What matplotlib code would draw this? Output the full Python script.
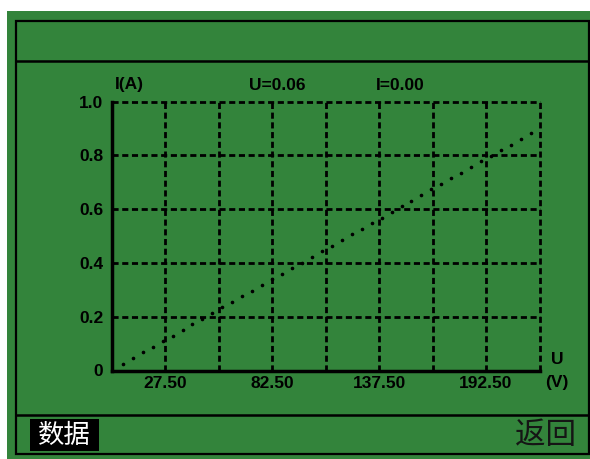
import matplotlib
matplotlib.use("Agg")
import matplotlib.pyplot as plt
from matplotlib.patches import Rectangle

u_volts = [5.8, 10.9, 16.0, 21.2, 26.3, 31.4, 36.5, 41.6, 46.7, 51.9, 57.0, 62.1, 67.2, 72.3,
           77.4, 82.6, 87.7, 92.8, 97.9, 103.0, 108.1, 113.3, 118.4, 123.5, 128.6, 133.7, 138.8,
           144.0, 149.1, 154.2, 159.3, 164.4, 169.5, 174.7, 179.8, 184.9, 190.0, 195.1, 200.2,
           205.4, 210.5, 215.6]
i_amps = [0.026, 0.047, 0.067, 0.088, 0.109, 0.130, 0.151, 0.172, 0.193, 0.214, 0.235, 0.255,
          0.276, 0.297, 0.318, 0.339, 0.360, 0.381, 0.401, 0.422, 0.443, 0.464, 0.485, 0.506,
          0.527, 0.547, 0.568, 0.590, 0.610, 0.631, 0.652, 0.673, 0.694, 0.715, 0.736, 0.756,
          0.777, 0.798, 0.819, 0.840, 0.861, 0.882]

grid_u = [27.5, 55.0, 82.5, 110.0, 137.5, 165.0, 192.5, 220.0]
grid_i = [0.2, 0.4, 0.6, 0.8, 1.0]
xtick_vals = [27.5, 82.5, 137.5, 192.5]
xtick_labels = ["27.50", "82.50", "137.50", "192.50"]
ytick_vals = [0, 0.2, 0.4, 0.6, 0.8, 1.0]
ytick_labels = ["0", "0.2", "0.4", "0.6", "0.8", "1.0"]
u_reading = "U=0.06"
i_reading = "I=0.00"
btn_left = "数据"
btn_right = "返回"

green = "#33843b"
W, H = 590, 459
fig = plt.figure(figsize=(W / 100, H / 100), dpi=100, facecolor="white")

# screen frame, drawn in pixel coords
bg = fig.add_axes([0, 0, 1, 1], zorder=0)
bg.set_xlim(0, W)
bg.set_ylim(H, 0)
bg.axis("off")
bg.add_patch(Rectangle((7, 11), W - 7, H - 11, facecolor=green, edgecolor="none"))
bg.add_patch(Rectangle((16, 21), 573, 433, facecolor="none", edgecolor="black", lw=1.6))
bg.plot([16, 589], [61, 61], color="black", lw=1.8)
bg.plot([16, 589], [415, 415], color="black", lw=1.8)

bold = dict(family="Liberation Sans", weight="bold", fontsize=12.5, color="black")
bg.text(129, 85, "I(A)", ha="center", va="center", **bold)
bg.text(277, 85, u_reading, ha="center", va="center", **bold)
bg.text(400, 85, i_reading, ha="center", va="center", **bold)
bg.text(557, 360, "U", ha="center", va="center", **bold)
bg.text(557, 383, "(V)", ha="center", va="center", **bold)

bg.add_patch(Rectangle((30, 419), 69, 32, facecolor="black", edgecolor="none"))
bg.text(64.5, 435, btn_left, ha="center", va="center", color="white", fontsize=19,
        family=["Noto Sans CJK SC", "DejaVu Sans"])
bg.text(546, 436, btn_right, ha="center", va="center", color="#151515", fontsize=22,
        family=["Noto Sans CJK SC", "DejaVu Sans"], weight="light")

# chart area
left, right, top, bottom = 111.5, 539.5, 101.5, 370.5
ax = fig.add_axes([left / W, (H - bottom) / H, (right - left) / W, (bottom - top) / H], zorder=1)
ax.set_facecolor("none")
ax.set_xlim(0, 220)
ax.set_ylim(0, 1.0)

dash = (0, (2.2, 1.3))
for u in grid_u:
    ax.axvline(u, color="black", lw=2.0, ls=dash, clip_on=False)
for i in grid_i:
    ax.axhline(i, color="black", lw=2.0, ls=dash, clip_on=False)

ax.plot(u_volts, i_amps, ls="none", marker="o", ms=1.6, color="black")

for s in ["top", "right"]:
    ax.spines[s].set_visible(False)
for s in ["left", "bottom"]:
    ax.spines[s].set_linewidth(2.5)
    ax.spines[s].set_capstyle("projecting")

ax.set_xticks(xtick_vals, xtick_labels)
ax.set_yticks(ytick_vals, ytick_labels)
ax.tick_params(length=0)
ax.tick_params(axis="x", pad=4)
ax.tick_params(axis="y", pad=6)
for lab in ax.get_xticklabels() + ax.get_yticklabels():
    lab.set_family("Liberation Sans")
    lab.set_weight("bold")
    lab.set_fontsize(12.5)

fig.savefig("out.png", dpi=100, facecolor="white")
